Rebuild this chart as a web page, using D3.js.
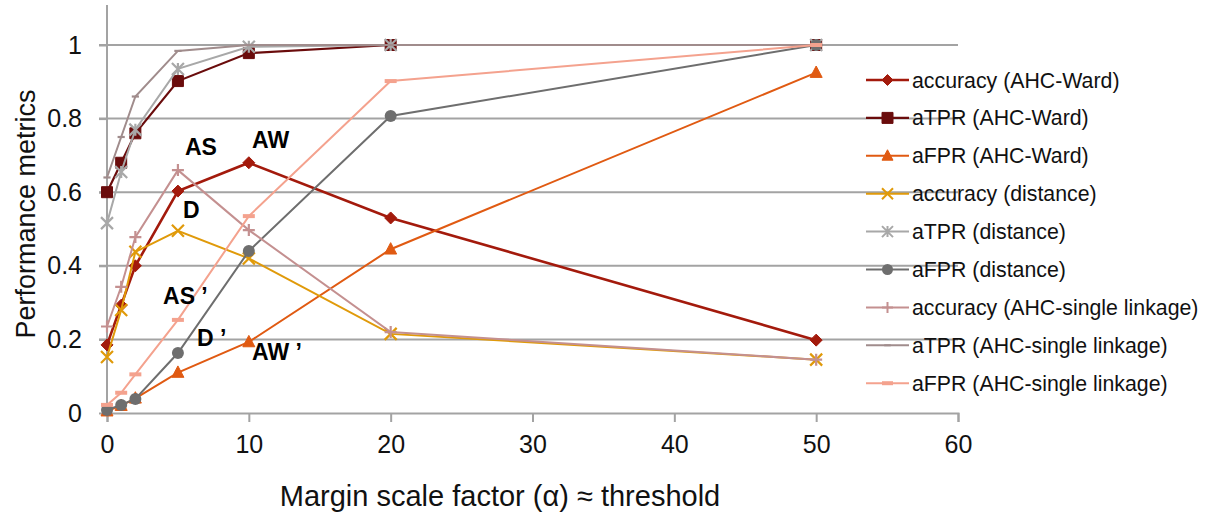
<!DOCTYPE html>
<html>
<head>
<meta charset="utf-8">
<script src="https://cdn.jsdelivr.net/npm/d3@7"></script>
<style>
  body { margin: 0; background: #fff; }
  text { font-family: "Liberation Sans", Arial, sans-serif; }
  .tick text { fill: #111; }
</style>
</head>
<body>
<div id="chart"></div>
<script>
// x values (margin scale factor)
const alphas = [0, 1, 2, 5, 10, 20, 50];

const accWard  = [0.185, 0.293, 0.40, 0.603, 0.68, 0.53, 0.198];
const tprWard  = [0.60, 0.68, 0.76, 0.902, 0.978, 1.0, 1.0];
const fprWard  = [0.005, 0.02, 0.04, 0.11, 0.193, 0.445, 0.925];
const accDist  = [0.152, 0.28, 0.438, 0.495, 0.42, 0.215, 0.145];
const tprDist  = [0.516, 0.655, 0.77, 0.935, 0.995, 1.0, 1.0];
const fprDist  = [0.008, 0.022, 0.038, 0.163, 0.44, 0.807, 1.0];
const accSingle = [0.235, 0.343, 0.478, 0.66, 0.497, 0.22, 0.145];
const tprSingle = [0.64, 0.75, 0.86, 0.984, 1.0, 1.0, 1.0];
const fprSingle = [0.022, 0.055, 0.105, 0.253, 0.535, 0.902, 1.0];

const xTickValues = [0, 10, 20, 30, 40, 50, 60];
const yTickValues = [0, 0.2, 0.4, 0.6, 0.8, 1];

const labels = [
  { text: "AS", x: 5.5, y: 0.70 },
  { text: "AW", x: 10.23, y: 0.72 },
  { text: "D", x: 5.36, y: 0.53 },
  { text: "AS \u2019", x: 3.95, y: 0.296 },
  { text: "D \u2019", x: 6.35, y: 0.182 },
  { text: "AW \u2019", x: 10.23, y: 0.144 }
];

const series = [
  { name: "accuracy (AHC-Ward)", values: accWard, color: "#a31a0c", width: 2.6, marker: "diamond" },
  { name: "aTPR (AHC-Ward)", values: tprWard, color: "#6a0c0c", width: 2.2, marker: "square" },
  { name: "aFPR (AHC-Ward)", values: fprWard, color: "#e05a12", width: 2, marker: "triangle" },
  { name: "accuracy (distance)", values: accDist, color: "#e09a0a", width: 2, marker: "x" },
  { name: "aTPR (distance)", values: tprDist, color: "#a8a8a8", width: 2, marker: "asterisk" },
  { name: "aFPR (distance)", values: fprDist, color: "#6e6e6e", width: 2, marker: "circle" },
  { name: "accuracy (AHC-single linkage)", values: accSingle, color: "#c49090", width: 2, marker: "plus" },
  { name: "aTPR (AHC-single linkage)", values: tprSingle, color: "#a08c8c", width: 2, marker: "dash" },
  { name: "aFPR (AHC-single linkage)", values: fprSingle, color: "#f4a28e", width: 2, marker: "bar" }
];

const width = 1212, height = 516;
const margin = { top: 5, left: 107, right: 254, bottom: 103 };
const innerW = width - margin.left - margin.right;
const innerH = height - margin.top - margin.bottom;

const svg = d3.select("#chart").append("svg")
  .attr("width", width).attr("height", height);
const g = svg.append("g").attr("transform", `translate(${margin.left},${margin.top})`);

const x = d3.scaleLinear().domain([0, 60]).range([0, innerW]);
const y = d3.scaleLinear().domain([0, 408 / 368]).range([innerH, 0]);

const axisColor = "#a3a3a3";

// grid lines
g.append("g").selectAll("line")
  .data(yTickValues.filter(d => d > 0)).enter().append("line")
  .attr("x1", -8).attr("x2", innerW)
  .attr("y1", d => y(d)).attr("y2", d => y(d))
  .attr("stroke", axisColor).attr("stroke-width", 2);

const yAxis = g.append("g")
  .call(d3.axisLeft(y).tickValues(yTickValues).tickSize(8).tickPadding(17).tickFormat(d3.format("~g")));
const xAxis = g.append("g")
  .attr("transform", `translate(0,${innerH})`)
  .call(d3.axisBottom(x).tickValues(xTickValues).tickSize(9).tickPadding(13));
[xAxis, yAxis].forEach(a => {
  a.select(".domain").attr("stroke", axisColor).attr("stroke-width", 2);
  a.selectAll(".tick line").attr("stroke", axisColor).attr("stroke-width", 2);
  a.selectAll(".tick text").style("font-size", "25px");
});
yAxis.select(".domain").attr("d", `M0,0V${innerH}`);

function markerPath(type, s) {
  switch (type) {
    case "diamond": return `M0,${-s}L${s},0L0,${s}L${-s},0Z`;
    case "square": return `M${-s},${-s}H${s}V${s}H${-s}Z`;
    case "triangle": return `M0,${-s * 1.1}L${s},${s * 0.8}L${-s},${s * 0.8}Z`;
    case "x": return `M${-s},${-s}L${s},${s}M${-s},${s}L${s},${-s}`;
    case "asterisk": return `M${-s},${-s}L${s},${s}M${-s},${s}L${s},${-s}M0,${-s}V${s}`;
    case "plus": return `M${-s},0H${s}M0,${-s}V${s}`;
    case "dash": return `M${-s * 0.6},0H${s * 0.6}`;
    case "bar": return `M${-s},0H${s}`;
  }
}

const line = d3.line().x((d, i) => x(alphas[i])).y(d => y(d));

series.forEach(s => {
  const sg = g.append("g");
  sg.append("path").datum(s.values)
    .attr("d", line).attr("fill", "none")
    .attr("stroke", s.color).attr("stroke-width", s.width);
  const pts = sg.selectAll(".pt").data(s.values).enter();
  if (s.marker === "circle") {
    pts.append("circle").attr("cx", (d, i) => x(alphas[i])).attr("cy", d => y(d))
      .attr("r", 6).attr("fill", s.color);
  } else {
    const filled = ["diamond", "square", "triangle"].includes(s.marker);
    const size = { diamond: 6, square: 5.5, triangle: 6, x: 6, asterisk: 6, plus: 6, dash: 6, bar: 6 }[s.marker];
    pts.append("path")
      .attr("transform", (d, i) => `translate(${x(alphas[i])},${y(d)})`)
      .attr("d", markerPath(s.marker, size))
      .attr("fill", filled ? s.color : "none")
      .attr("stroke", s.color)
      .attr("stroke-width", filled ? 1 : (s.marker === "bar" ? 4 : 2.2));
  }
});

// annotations
g.append("g").selectAll("text").data(labels).enter().append("text")
  .attr("x", d => x(d.x)).attr("y", d => y(d.y))
  .style("font-weight", "bold").style("font-size", "23px")
  .attr("fill", "#000")
  .text(d => d.text);

// legend
const legend = svg.append("g").attr("transform", "translate(866,80)");
series.forEach((s, i) => {
  const lg = legend.append("g").attr("transform", `translate(0,${i * 37.9})`);
  lg.append("line").attr("x1", 0).attr("x2", 43).attr("y1", 0).attr("y2", 0)
    .attr("stroke", s.color).attr("stroke-width", s.width);
  if (s.marker === "circle") {
    lg.append("circle").attr("cx", 21.5).attr("r", 5.5).attr("fill", s.color);
  } else {
    const filled = ["diamond", "square", "triangle"].includes(s.marker);
    lg.append("path").attr("transform", "translate(21.5,0)")
      .attr("d", markerPath(s.marker, 5.5))
      .attr("fill", filled ? s.color : "none").attr("stroke", s.color)
      .attr("stroke-width", filled ? 1 : (s.marker === "bar" ? 4 : 2));
  }
  lg.append("text").attr("x", 46).attr("y", 7.5)
    .style("font-size", "21.3px").attr("fill", "#111")
    .text(s.name);
});

// axis titles
svg.append("text")
  .attr("transform", "translate(35,214) rotate(-90)")
  .attr("text-anchor", "middle")
  .style("font-size", "27px").attr("fill", "#111")
  .text("Performance metrics");
svg.append("text")
  .attr("x", 500).attr("y", 506)
  .attr("text-anchor", "middle")
  .style("font-size", "29px").attr("fill", "#111")
  .text("Margin scale factor (α) ≈ threshold");
</script>
</body>
</html>
